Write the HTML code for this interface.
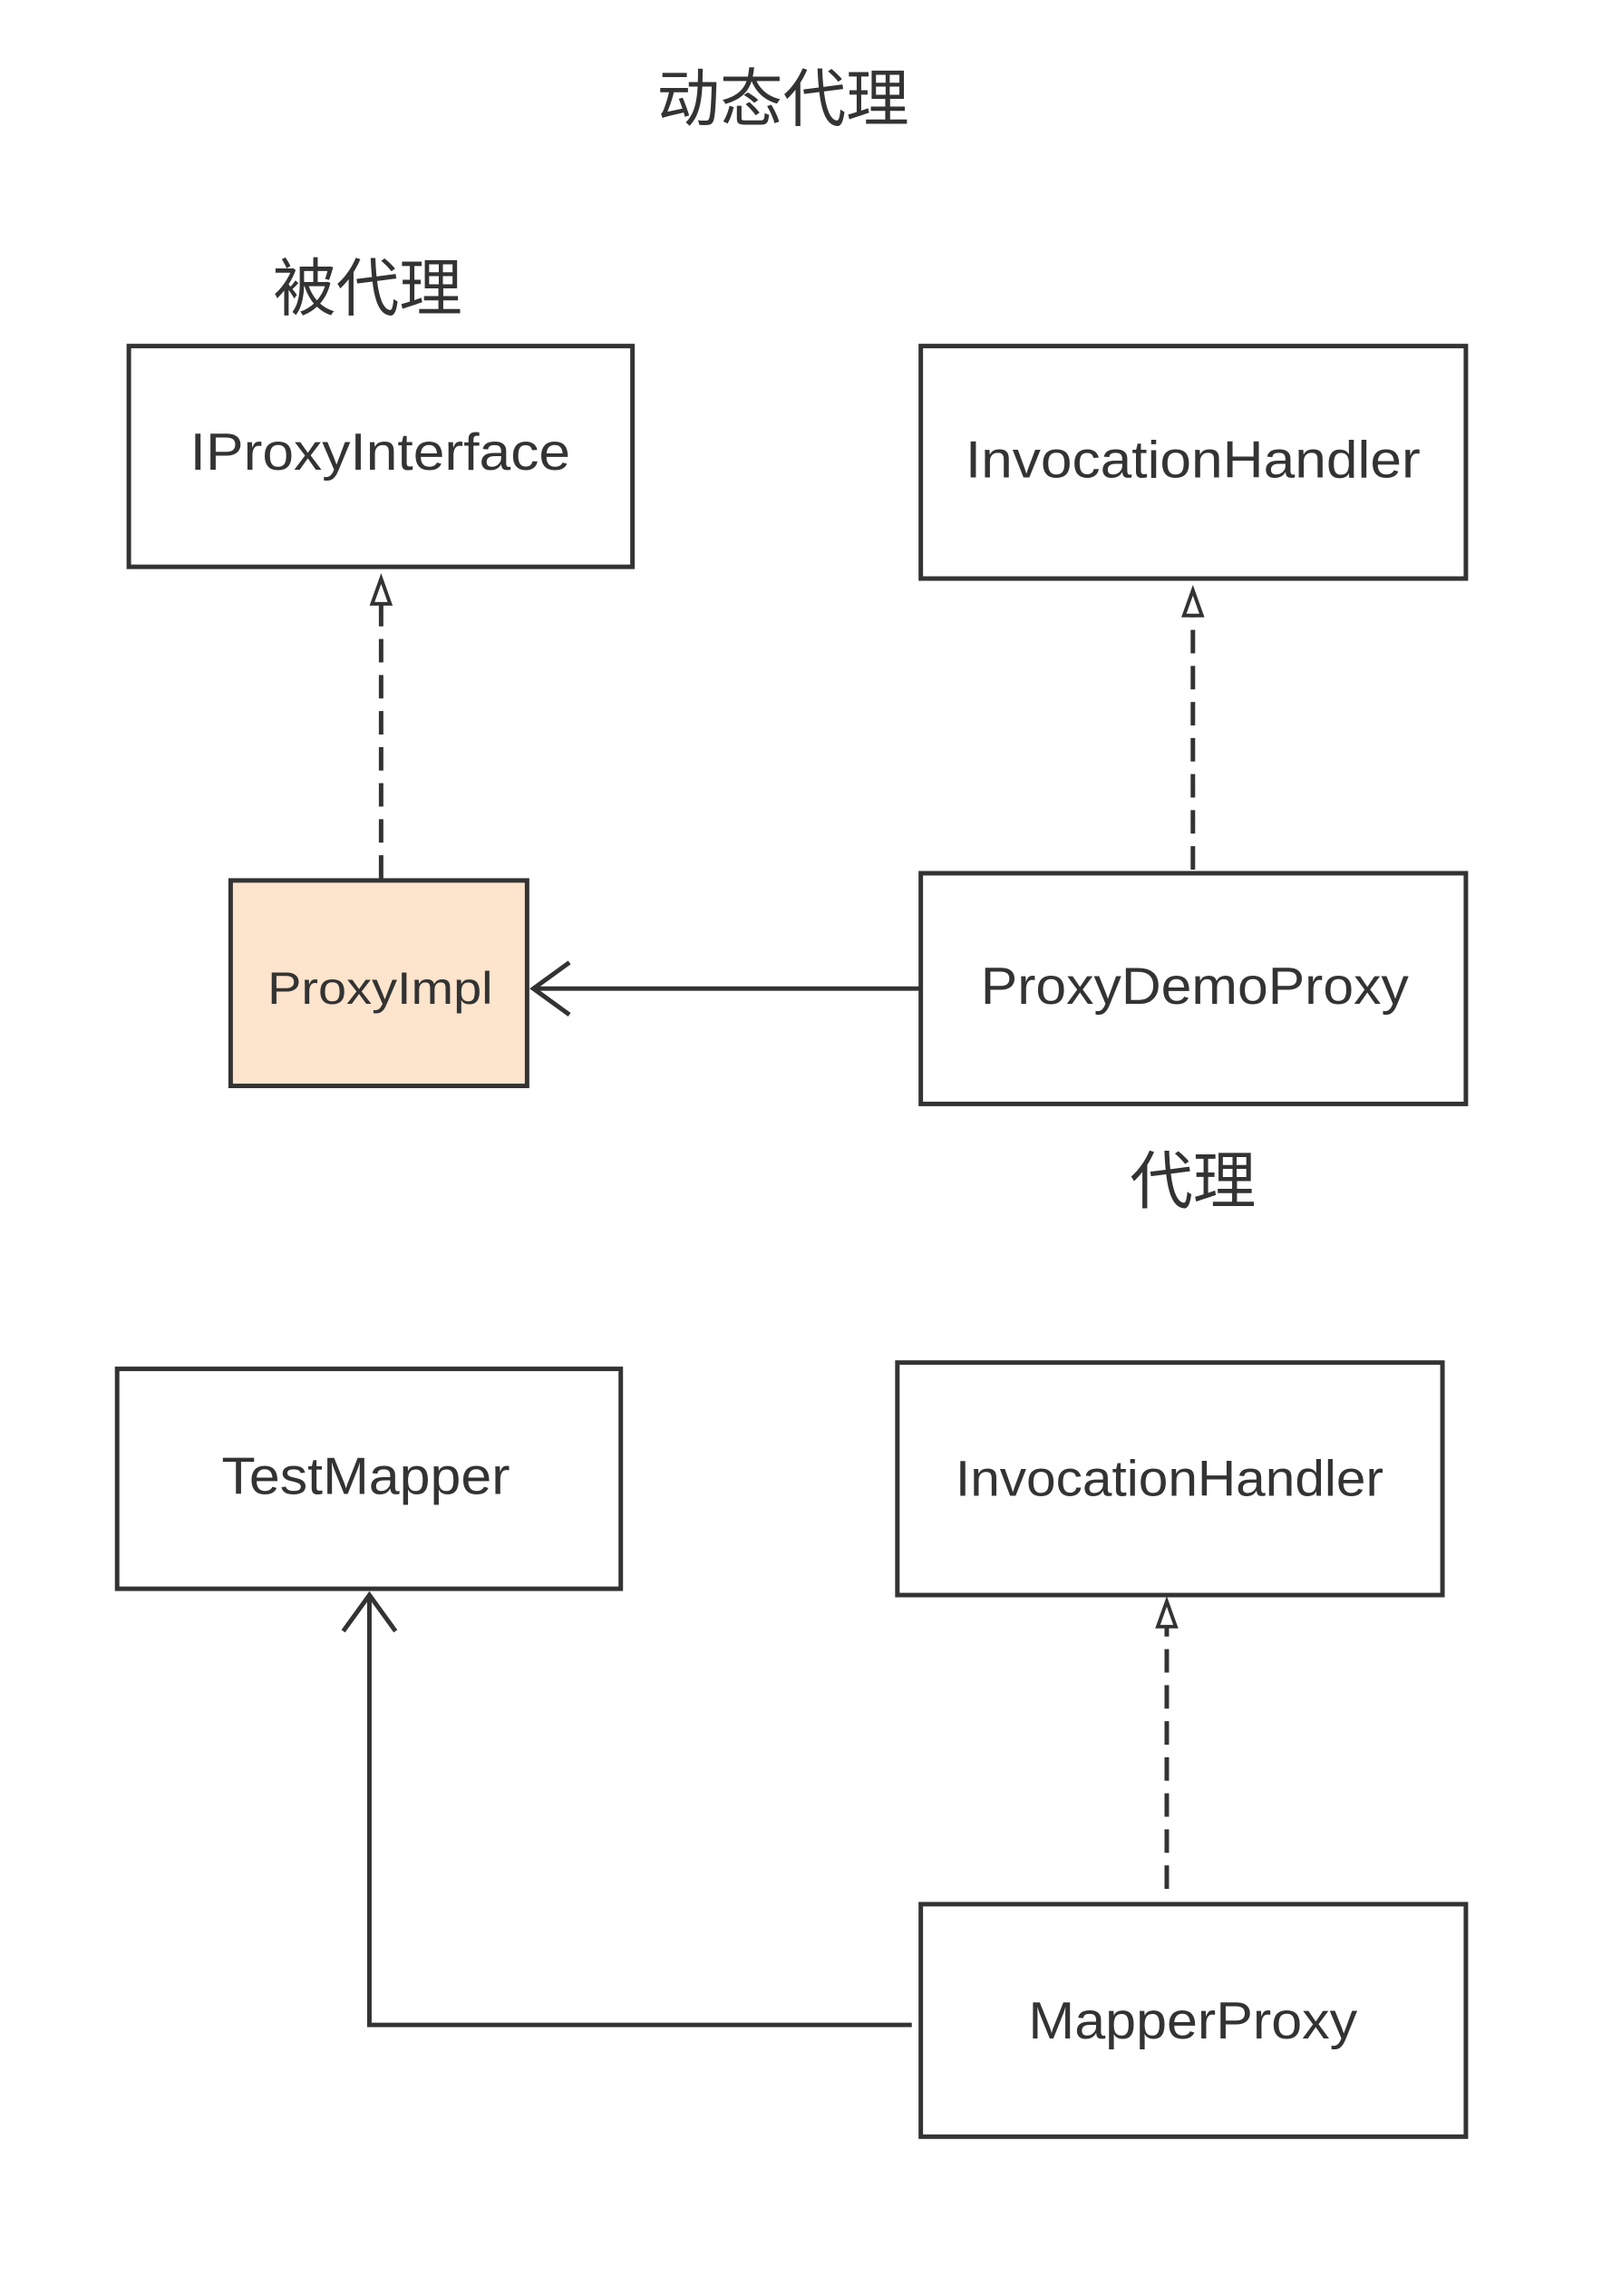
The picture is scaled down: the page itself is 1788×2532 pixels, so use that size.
<!DOCTYPE html>
<html><head><meta charset="utf-8"><style>html,body{margin:0;padding:0;background:#fff;}svg{display:block}</style></head>
<body>
<svg width="1788" height="2532" viewBox="0 0 1788 2532" xmlns="http://www.w3.org/2000/svg">
<g transform="scale(0.9938)">
<g font-family="'Liberation Sans','Noto Sans CJK SC',sans-serif" fill="#333">
<text x="869" y="134" font-size="70" text-anchor="middle">动态代理</text>
<text x="408" y="344" font-size="70" text-anchor="middle">被代理</text>
<text x="1324" y="1335" font-size="70" text-anchor="middle">代理</text>
</g>
<g stroke="#333" stroke-width="5" fill="#fff">
<rect x="143" y="384" width="559" height="245"/>
<rect x="1022" y="384" width="605" height="258"/>
<rect x="256" y="977" width="329" height="228" fill="#fde4cc"/>
<rect x="1022" y="969" width="605" height="256"/>
<rect x="130" y="1519" width="559" height="244"/>
<rect x="996" y="1512" width="605" height="258"/>
<rect x="1022" y="2113" width="605" height="258"/>
</g>
<g stroke="#333" stroke-width="5" fill="none">
<line x1="423" y1="975" x2="423" y2="670" stroke-dasharray="26,14"/>
<path d="M423 642 L413 670 L433 670 Z" fill="#fff" stroke-width="4"/>
<line x1="1324" y1="965" x2="1324" y2="683" stroke-dasharray="26,14"/>
<path d="M1324 655 L1314 683 L1334 683 Z" fill="#fff" stroke-width="4"/>
<line x1="1295" y1="2096" x2="1295" y2="1805" stroke-dasharray="26,14"/>
<path d="M1295 1777 L1285 1805 L1305 1805 Z" fill="#fff" stroke-width="4"/>
<line x1="1022" y1="1097" x2="592" y2="1097"/>
<path d="M632 1068 L592 1097 L632 1126"/>
<path d="M1012 2247 L410 2247 L410 1770"/>
<path d="M381 1810 L410 1770 L439 1810"/>
</g>
<g font-family="'Liberation Sans',sans-serif" fill="#333" text-anchor="middle">
<text x="422" y="521" font-size="58" textLength="422" lengthAdjust="spacingAndGlyphs">IProxyInterface</text>
<text x="1324" y="530" font-size="58" textLength="505" lengthAdjust="spacingAndGlyphs">InvocationHandler</text>
<text x="422" y="1114" font-size="50" textLength="250" lengthAdjust="spacingAndGlyphs">ProxyImpl</text>
<text x="1326" y="1114" font-size="58" textLength="475" lengthAdjust="spacingAndGlyphs">ProxyDemoProxy</text>
<text x="406" y="1658" font-size="58" textLength="320" lengthAdjust="spacingAndGlyphs">TestMapper</text>
<text x="1298" y="1660" font-size="56" textLength="475" lengthAdjust="spacingAndGlyphs">InvocationHandler</text>
<text x="1324" y="2262" font-size="58" textLength="365" lengthAdjust="spacingAndGlyphs">MapperProxy</text>
</g>
</g>
</svg>
</body></html>
